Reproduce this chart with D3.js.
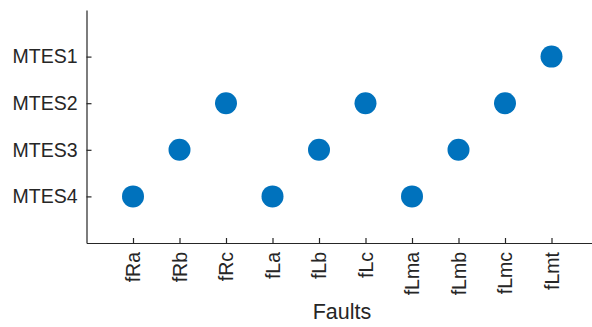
<!DOCTYPE html>
<html><head><meta charset="utf-8">
<script src="https://cdn.jsdelivr.net/npm/d3@7"></script>
<style>html,body{margin:0;padding:0;background:#fff;}svg{display:block;}</style>
</head><body>
<svg id="c" width="592" height="327"></svg>
<script>
const faults = ["fRa","fRb","fRc","fLa","fLb","fLc","fLma","fLmb","fLmc","fLmt"];
const mtesLabels = ["MTES1","MTES2","MTES3","MTES4"];
const mtesIndex = [4,3,2,4,3,2,4,3,2,1];
const xLabel = "Faults";

const svg = d3.select("#c");
const L = 86.5, R = 598, T = 10, B = 243;
const font = "'Liberation Sans', Arial, Helvetica, sans-serif";
const ink = "#262626";

const x = d3.scaleLinear().domain([0, faults.length + 1]).range([L, R]);
const y = d3.scaleLinear().domain([0, mtesLabels.length + 1]).range([T, B]);

const xAxis = d3.axisBottom(x)
  .tickValues(d3.range(1, faults.length + 1))
  .tickFormat(i => faults[i - 1])
  .tickSizeInner(-5).tickSizeOuter(0).tickPadding(8);
const gx = svg.append("g").attr("transform", `translate(0,${B})`).call(xAxis);
gx.select(".domain").attr("stroke", ink).attr("stroke-width", 1.2);
gx.selectAll(".tick line").attr("stroke", ink).attr("stroke-width", 1.2);
gx.selectAll(".tick text")
  .attr("fill", ink).style("font-family", font).style("font-size", "19.5px")
  .attr("transform", "rotate(-90)")
  .attr("text-anchor", "end")
  .attr("x", -9).attr("y", 0).attr("dy", "0.35em");

const yAxis = d3.axisLeft(y)
  .tickValues(d3.range(1, mtesLabels.length + 1))
  .tickFormat(i => mtesLabels[i - 1])
  .tickSizeInner(-5).tickSizeOuter(0).tickPadding(9);
const gy = svg.append("g").attr("transform", `translate(${L},0)`).call(yAxis);
gy.select(".domain").attr("stroke", ink).attr("stroke-width", 1.2);
gy.selectAll(".tick line").attr("stroke", ink).attr("stroke-width", 1.2);
gy.selectAll(".tick text")
  .attr("fill", ink).style("font-family", font).style("font-size", "19.5px");

svg.append("text")
  .attr("x", 342).attr("y", 319)
  .attr("text-anchor", "middle")
  .attr("fill", ink).style("font-family", font).style("font-size", "21.5px")
  .text(xLabel);

svg.append("g").selectAll("circle")
  .data(faults.map((f, i) => ({i: i + 1, v: mtesIndex[i]})))
  .join("circle")
  .attr("cx", d => x(d.i))
  .attr("cy", d => y(d.v))
  .attr("r", 11)
  .attr("fill", "#0072BD");
</script>
</body></html>
